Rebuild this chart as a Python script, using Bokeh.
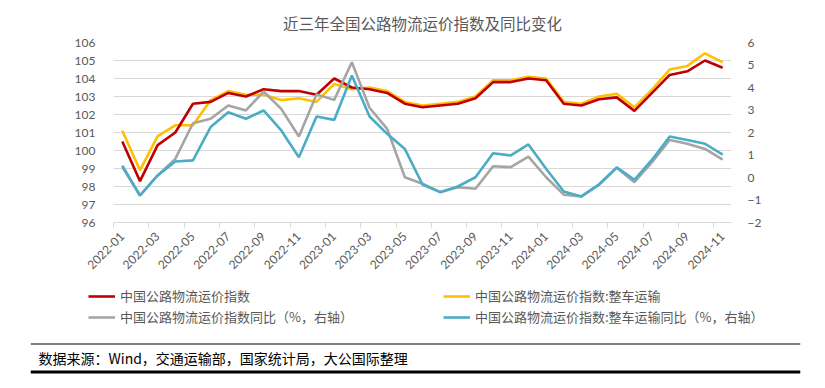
from bokeh.plotting import figure
from bokeh.models import Range1d, LinearAxis, FixedTicker, Legend, LegendItem, Label, Span
from bokeh.embed import file_html
from bokeh.resources import INLINE

months = [f"{y}-{m:02d}" for y in (2022, 2023, 2024) for m in range(1, 13)][:35]

index_all = [100.5, 98.3, 100.3, 101.0, 102.6, 102.7, 103.2, 103.0, 103.4, 103.3, 103.3, 103.1,
             104.0, 103.5, 103.4, 103.2, 102.6, 102.4, 102.5, 102.6, 102.9, 103.8, 103.8, 104.0,
             103.9, 102.6, 102.5, 102.85, 102.95, 102.2, 103.2, 104.2, 104.4, 105.0, 104.6]
index_truck = [101.1, 98.9, 100.8, 101.4, 101.4, 102.8, 103.3, 103.1, 103.1, 102.8, 102.9, 102.7,
               103.7, 103.4, 103.5, 103.3, 102.7, 102.5, 102.6, 102.7, 103.0, 103.9, 103.9, 104.1,
               104.0, 102.7, 102.6, 103.0, 103.15, 102.4, 103.4, 104.5, 104.7, 105.4, 104.9]
yoy_all = [0.46, -0.8, 0.09, 0.83, 2.41, 2.61, 3.2, 2.98, 3.82, 3.05, 1.82, 3.69,
           3.45, 5.12, 3.1, 2.16, 0.01, -0.28, -0.65, -0.43, -0.5, 0.5, 0.46, 0.93,
           0.01, -0.76, -0.84, -0.33, 0.43, -0.21, 0.68, 1.67, 1.5, 1.27, 0.79]
yoy_truck = [0.53, -0.8, 0.09, 0.71, 0.76, 2.24, 2.9, 2.61, 2.98, 2.09, 0.9, 2.71,
             2.56, 4.53, 2.71, 1.94, 1.27, -0.31, -0.65, -0.4, 0.01, 1.08, 0.98, 1.47,
             0.39, -0.62, -0.84, -0.3, 0.45, -0.1, 0.79, 1.82, 1.67, 1.5, 1.02]

left_ticks = list(range(96, 107))
right_ticks = list(range(-2, 7))

names = ["中国公路物流运价指数", "中国公路物流运价指数:整车运输",
         "中国公路物流运价指数同比（%，右轴）", "中国公路物流运价指数:整车运输同比（%，右轴）"]
colors = ["#C00000", "#FFC000", "#A5A5A5", "#4BACC6"]
title_text = "近三年全国公路物流运价指数及同比变化"
source_text = "数据来源：Wind，交通运输部，国家统计局，大公国际整理"

FONT = "Noto Sans CJK SC"
GREY = "#595959"
LW = 2.6

x = list(range(len(months)))

# ---------------- main chart ----------------
p = figure(width=825, height=280, output_backend="svg", toolbar_location=None,
           x_range=Range1d(-0.5, len(months) - 0.5),
           y_range=Range1d(left_ticks[0], left_ticks[-1]),
           min_border_left=113, min_border_right=94, min_border_top=42, min_border_bottom=58)
p.outline_line_color = None
p.extra_y_ranges = {"r": Range1d(right_ticks[0], right_ticks[-1])}

p.title.text = title_text
p.title.align = "center"
p.title.text_font = FONT
p.title.text_font_size = "15.5px"
p.title.text_font_style = "normal"
p.title.text_color = GREY
p.title.offset = -8
p.title.standoff = 18

xa = p.xaxis[0]
xa.ticker = FixedTicker(ticks=x[::2], minor_ticks=[i - 0.5 for i in x[::2]])
xa.major_label_overrides = {i: months[i] for i in x[::2]}
xa.major_label_orientation = 0.785398
xa.major_tick_line_color = None
xa.minor_tick_line_color = "#d9d9d9"
xa.minor_tick_in = 0
xa.minor_tick_out = 5
xa.axis_line_color = "#d9d9d9"
xa.major_label_text_color = GREY
xa.major_label_text_font = "Lato"
xa.major_label_text_font_size = "12px"
xa.major_label_standoff = 6

ya = p.yaxis[0]
ya.ticker = FixedTicker(ticks=left_ticks)
ya.axis_line_color = None
ya.major_tick_line_color = None
ya.minor_tick_line_color = None
ya.major_label_text_color = GREY
ya.major_label_text_font = "Lato"
ya.major_label_text_font_size = "12px"
ya.major_label_standoff = 12

ra = LinearAxis(y_range_name="r", ticker=FixedTicker(ticks=right_ticks))
ra.axis_line_color = None
ra.major_tick_line_color = None
ra.minor_tick_line_color = None
ra.major_label_text_color = GREY
ra.major_label_text_font = "Lato"
ra.major_label_text_font_size = "12px"
ra.major_label_standoff = 10
p.add_layout(ra, "right")

p.xgrid.grid_line_color = None
p.ygrid.grid_line_color = "#d9d9d9"
p.ygrid.ticker = FixedTicker(ticks=left_ticks)

p.line(x, index_truck, color=colors[1], line_width=LW)
p.line(x, index_all, color=colors[0], line_width=LW)
p.line(x, yoy_all, color=colors[2], line_width=LW, y_range_name="r")
p.line(x, yoy_truck, color=colors[3], line_width=LW, y_range_name="r")

# ---------------- footer: legend + source ----------------
FH = 108
f = figure(width=825, height=FH, output_backend="svg", toolbar_location=None,
           x_range=Range1d(0, 770), y_range=Range1d(FH, 0),
           x_axis_type=None, y_axis_type=None,
           min_border_left=30, min_border_right=25, min_border_top=0, min_border_bottom=0)
f.outline_line_color = None
f.xgrid.visible = False
f.ygrid.visible = False

legend_renderers = [f.line([0], [float("nan")], color=c, line_width=LW) for c in colors]
positions = [(58, FH - 25), (413, FH - 25), (58, FH - 46), (413, FH - 46)]
for name, r, loc in zip(names, legend_renderers, positions):
    leg = Legend(items=[LegendItem(label=name, renderers=[r])], location=loc,
                 padding=0, margin=0, spacing=0, border_line_color=None,
                 background_fill_alpha=0, glyph_width=27, glyph_height=8, label_standoff=5,
                 label_height=8,
                 label_text_font=FONT, label_text_font_size="13px", label_text_color=GREY)
    f.add_layout(leg)

f.add_layout(Span(location=343.5 - 280, dimension="width", line_color="#7f7f7f", line_width=2))
f.add_layout(Span(location=371.5 - 280, dimension="width", line_color="#000000", line_width=3))
f.add_layout(Label(x=8, y=357 - 280, text=source_text, text_align="left",
                   text_baseline="middle", text_font=FONT, text_font_size="14px",
                   text_color="#000000"))

open("out.html", "w").write(file_html([p, f], INLINE))
